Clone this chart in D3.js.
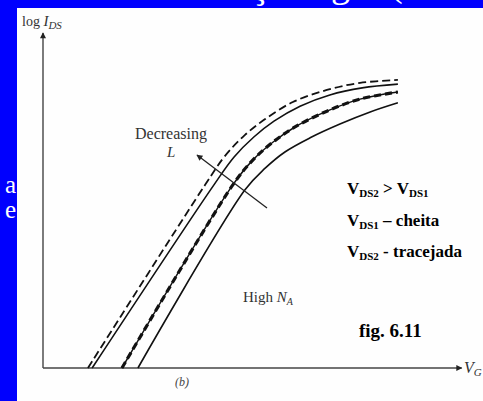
<!DOCTYPE html>
<html>
<head>
<meta charset="utf-8">
<script src="https://cdn.jsdelivr.net/npm/d3@7"></script>
<style>
  body { margin: 0; background: #0000fe; }
  svg { display: block; }
</style>
</head>
<body>
<div id="chart"></div>
<script>
// curves: [V_G, log I_DS] in arbitrary units
const shortDashed = [[1.07,0],[3.86,4.40],[4.33,5.09],[4.81,5.60],[5.29,5.98],[5.95,6.39],[6.76,6.68],[7.55,6.85],[8.45,6.92]];
const shortSolid  = [[1.17,0],[4.07,4.40],[4.55,5.07],[5.02,5.55],[5.50,5.93],[6.12,6.29],[6.83,6.56],[7.60,6.73],[8.45,6.82]];
const longL       = [[1.88,0],[4.52,4.40],[5.00,5.00],[5.48,5.43],[6.00,5.79],[6.76,6.17],[7.55,6.46],[8.45,6.63]];
const highNA      = [[2.26,0],[4.81,4.28],[5.29,4.80],[5.76,5.19],[6.36,5.53],[7.07,5.86],[7.79,6.15],[8.45,6.37]];

const legendLines = [
  [["V", 0], ["DS2", 1], [" > V", 0], ["DS1", 1]],
  [["V", 0], ["DS1", 1], [" \u2013 cheita", 0]],
  [["V", 0], ["DS2", 1], [" - tracejada", 0]]
];

const width = 483, height = 401;

const svg = d3.select("#chart").append("svg")
    .attr("width", width)
    .attr("height", height);

// white page area over the blue slide
svg.append("rect").attr("x", 17).attr("y", 8)
    .attr("width", width - 17).attr("height", height - 8)
    .attr("fill", "#fefefe");

// bits of slide text that peek in at the edges
const edge = svg.append("g").attr("fill", "#fff").attr("font-family", "Liberation Serif");
edge.append("text").attr("x", 16).attr("y", 193).attr("text-anchor", "end").attr("font-size", 25).text("a");
edge.append("text").attr("x", 16).attr("y", 218).attr("text-anchor", "end").attr("font-size", 25).text("e");
edge.append("text").attr("x", 251).attr("y", -2).attr("font-size", 38).text("ç");
edge.append("text").attr("x", 331).attr("y", -3).attr("font-size", 38).text("g");
edge.append("text").attr("x", 390).attr("y", -4).attr("font-size", 38).text("(");

const x = d3.scaleLinear().domain([0, 10]).range([43, 463]);
const y = d3.scaleLinear().domain([0, 8]).range([368, 35]);

const defs = svg.append("defs");
defs.append("marker").attr("id", "head")
    .attr("viewBox", "0 0 10 10").attr("refX", 9).attr("refY", 5)
    .attr("markerWidth", 8).attr("markerHeight", 6)
    .attr("markerUnits", "userSpaceOnUse")
    .attr("orient", "auto")
    .append("path").attr("d", "M0,0L10,5L0,10z").attr("fill", "#222");

// axes
svg.append("line")
    .attr("x1", x(0)).attr("y1", y(0)).attr("x2", x(9.97)).attr("y2", y(0))
    .attr("stroke", "#444").attr("stroke-width", 1.4)
    .attr("marker-end", "url(#head)");
svg.append("line")
    .attr("x1", x(0)).attr("y1", y(0)).attr("x2", x(0)).attr("y2", y(8.05))
    .attr("stroke", "#444").attr("stroke-width", 1.4)
    .attr("marker-end", "url(#head)");

const line = d3.line()
    .x(d => x(d[0]))
    .y(d => y(d[1]))
    .curve(d3.curveCatmullRom.alpha(0.5));

const curves = svg.append("g").attr("fill", "none").attr("stroke", "#111");
curves.append("path").attr("d", line(shortDashed)).attr("stroke-width", 1.8).attr("stroke-dasharray", "8,4");
curves.append("path").attr("d", line(shortSolid)).attr("stroke-width", 1.6);
curves.append("path").attr("d", line(longL)).attr("stroke-width", 1.5);
curves.append("path").attr("d", line(longL)).attr("stroke-width", 3.2).attr("stroke-dasharray", "7,4");
curves.append("path").attr("d", line(highNA)).attr("stroke-width", 1.6);

// decreasing L arrow
svg.append("line")
    .attr("x1", 267).attr("y1", 208).attr("x2", 197).attr("y2", 155)
    .attr("stroke", "#222").attr("stroke-width", 1.3)
    .attr("marker-end", "url(#head)");

const serif = "Liberation Serif";
svg.append("text").attr("x", 135).attr("y", 139)
    .attr("font-family", serif).attr("font-size", 16).attr("fill", "#333")
    .text("Decreasing");
svg.append("text").attr("x", 167).attr("y", 157)
    .attr("font-family", serif).attr("font-size", 15).attr("font-style", "italic").attr("fill", "#333")
    .text("L");

// axis labels
const yl = svg.append("text").attr("x", 22).attr("y", 26)
    .attr("font-family", serif).attr("font-size", 14).attr("fill", "#333");
yl.append("tspan").text("log ");
yl.append("tspan").attr("font-style", "italic").attr("font-size", 15).text("I");
yl.append("tspan").attr("font-style", "italic").attr("font-size", 11).attr("dy", 3).text("DS");

const xl = svg.append("text").attr("x", 464).attr("y", 373)
    .attr("font-family", serif).attr("font-size", 16).attr("font-style", "italic").attr("fill", "#333");
xl.append("tspan").text("V");
xl.append("tspan").attr("font-size", 11).attr("dy", 3).text("G");

svg.append("text").attr("x", 175).attr("y", 386)
    .attr("font-family", serif).attr("font-size", 12).attr("font-style", "italic").attr("fill", "#444")
    .text("(b)");

const na = svg.append("text").attr("x", 243).attr("y", 302)
    .attr("font-family", serif).attr("font-size", 15).attr("fill", "#333");
na.append("tspan").text("High ");
na.append("tspan").attr("font-style", "italic").text("N");
na.append("tspan").attr("font-style", "italic").attr("font-size", 10).attr("dy", 3).text("A");

// right-hand notes
legendLines.forEach((parts, i) => {
  const t = svg.append("text").attr("x", 347).attr("y", 194 + i * 31.5)
      .attr("font-family", serif).attr("font-weight", "bold").attr("fill", "#000");
  parts.forEach(([s, sub]) => {
    t.append("tspan")
        .attr("font-size", sub ? 11 : 17)
        .attr("dy", sub ? 3 : -3)
        .text(s);
  });
  t.select("tspan").attr("dy", 0);
});

svg.append("text").attr("x", 359).attr("y", 337)
    .attr("font-family", serif).attr("font-weight", "bold").attr("font-size", 19)
    .text("fig. 6.11");
</script>
</body>
</html>
